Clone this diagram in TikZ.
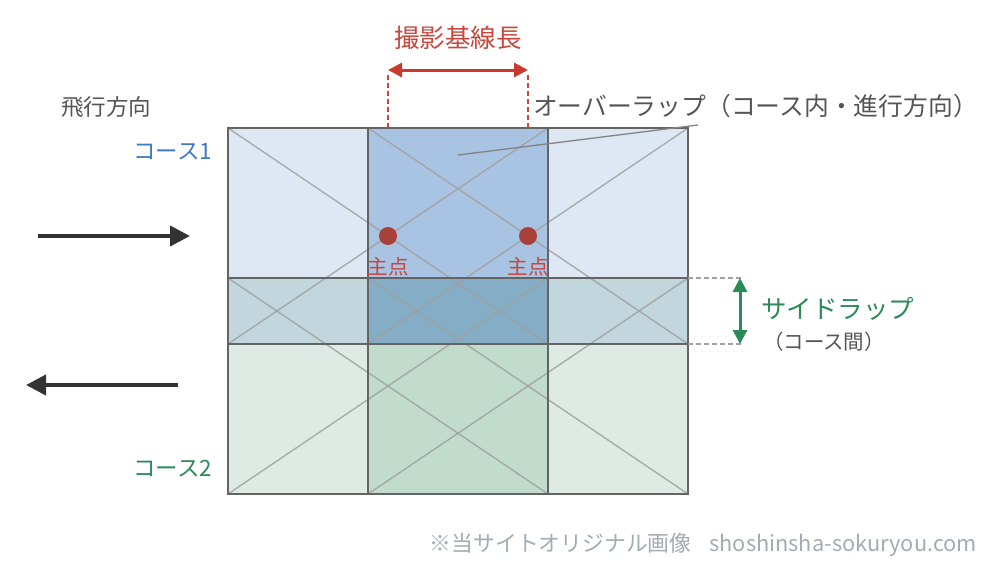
\documentclass[tikz,border=0pt]{standalone}
\usepackage{fontspec}
\setmainfont{Noto Sans CJK JP}
\usetikzlibrary{arrows.meta}
\definecolor{cA}{HTML}{DEE8F4}
\definecolor{cAB}{HTML}{A9C4E2}
\definecolor{cS}{HTML}{C1D7DD}
\definecolor{cSB}{HTML}{85ADC5}
\definecolor{cC}{HTML}{DDEBE4}
\definecolor{cCB}{HTML}{C1DCCC}
\definecolor{bord}{HTML}{646464}
\definecolor{diag}{HTML}{A0A0A0}
\definecolor{redA}{HTML}{C93A2C}
\definecolor{redT}{HTML}{C9463C}
\definecolor{redD}{HTML}{A8413C}
\definecolor{grnA}{HTML}{2B8A57}
\definecolor{blueT}{HTML}{3D7BC4}
\definecolor{txt}{HTML}{555555}
\definecolor{wm}{HTML}{A3ABB3}
\definecolor{darkA}{HTML}{333333}
\tikzset{
  photo/.style={draw=bord, line width=2.8pt},
  diagl/.style={draw=diag, line width=1.4pt, opacity=0.85},
  lbl/.style={inner sep=0pt, outer sep=0pt},
  flight/.style={darkA, line width=4pt, -{Triangle[length=20pt,width=20pt]}},
}
\begin{document}
\begin{tikzpicture}[x=1pt,y=-1pt]
\useasboundingbox (0,0) rectangle (993,568);
% fills
\fill[cA] (228,128) rectangle (688,278);
\fill[cAB] (368,128) rectangle (548,278);
\fill[cS] (228,278) rectangle (688,344);
\fill[cSB] (368,278) rectangle (548,344);
\fill[cC] (228,344) rectangle (688,494);
\fill[cCB] (368,344) rectangle (548,494);
% diagonals
\foreach \x/\y in {228/128, 368/128, 228/278, 368/278}{
  \draw[diagl] (\x,\y) -- (\x+320,\y+216);
  \draw[diagl] (\x,\y+216) -- (\x+320,\y);
}
% photo borders
\draw[photo] (228,278) rectangle (548,494);
\draw[photo] (368,278) rectangle (688,494);
\draw[photo] (228,128) rectangle (548,344);
\draw[photo] (368,128) rectangle (688,344);
% principal points
\fill[redD] (388,236) circle (9pt);
\fill[redD] (528,236) circle (9pt);
\node[lbl, font=\fontsize{20.5}{20.5}\selectfont, text=redT] (pp1) at (388,267) {主点};
\node[lbl, font=\fontsize{20.5}{20.5}\selectfont, text=redT] (pp2) at (528,267) {主点};
% baseline
\coordinate (b1t) at (388,75);
\coordinate (b1b) at (388,128);
\coordinate (b2t) at (528,75);
\coordinate (b2b) at (528,128);
\draw[redT, line width=1.3pt, dashed, dash pattern=on 5pt off 3pt] (b1t) -- (b1b);
\draw[redT, line width=1.3pt, dashed, dash pattern=on 5pt off 3pt] (b2t) -- (b2b);
\coordinate (bl) at (388,70);
\coordinate (br) at (528,70);
\draw[redA, line width=3pt, {Triangle[length=14pt,width=14pt]}-{Triangle[length=14pt,width=14pt]}] (bl) -- (br);
\node[lbl, font=\fontsize{25.5}{25.5}\selectfont, text=redT] (base) at (458,38) {撮影基線長};
% overlap label
\node[lbl, anchor=west, font=\fontsize{24.8}{25}\selectfont, text=txt] (ovl) at (533,106) {オーバーラップ（コース内・進行方向）};
\coordinate (ovA) at (458,155);
\coordinate (ovB) at (698,125);
\draw[draw=bord!80, line width=1.3pt] (ovA) -- (ovB);
% flight direction
\node[lbl, anchor=west, font=\fontsize{22.5}{22.5}\selectfont, text=txt] (fd) at (61,107) {飛行方向};
\node[lbl, anchor=east, font=\fontsize{22.5}{22.5}\selectfont, text=blueT] (c1) at (212,152) {コース1};
\node[lbl, anchor=east, font=\fontsize{22.5}{22.5}\selectfont, text=grnA] (c2) at (212,469) {コース2};
\coordinate (f1a) at (38,236);
\coordinate (f1b) at (190,236);
\coordinate (f2a) at (178,385);
\coordinate (f2b) at (26,385);
\draw[flight] (f1a) -- (f1b);
\draw[flight] (f2a) -- (f2b);
% side lap
\coordinate (s1a) at (688,278);
\coordinate (s1b) at (742,278);
\coordinate (s2a) at (688,344);
\coordinate (s2b) at (742,344);
\draw[diag, line width=1.3pt, dashed, dash pattern=on 5pt off 3pt] (s1a) -- (s1b);
\draw[diag, line width=1.3pt, dashed, dash pattern=on 5pt off 3pt] (s2a) -- (s2b);
\coordinate (st) at (740,278);
\coordinate (sb) at (740,344);
\draw[grnA, line width=3pt, {Triangle[length=14pt,width=14pt]}-{Triangle[length=14pt,width=14pt]}] (st) -- (sb);
\node[lbl, anchor=west, font=\fontsize{25.5}{25.5}\selectfont, text=grnA] (sl) at (761,309) {サイドラップ};
\node[lbl, anchor=west, font=\fontsize{20.5}{20.5}\selectfont, text=txt] (slc) at (763,342) {（コース間）};
% watermark
\node[lbl, anchor=east, font=\fontsize{21.8}{21.8}\selectfont, text=wm] (wmk) at (977,545) {※当サイトオリジナル画像\hspace{18pt}shoshinsha-sokuryou.com};
\end{tikzpicture}
\end{document}
